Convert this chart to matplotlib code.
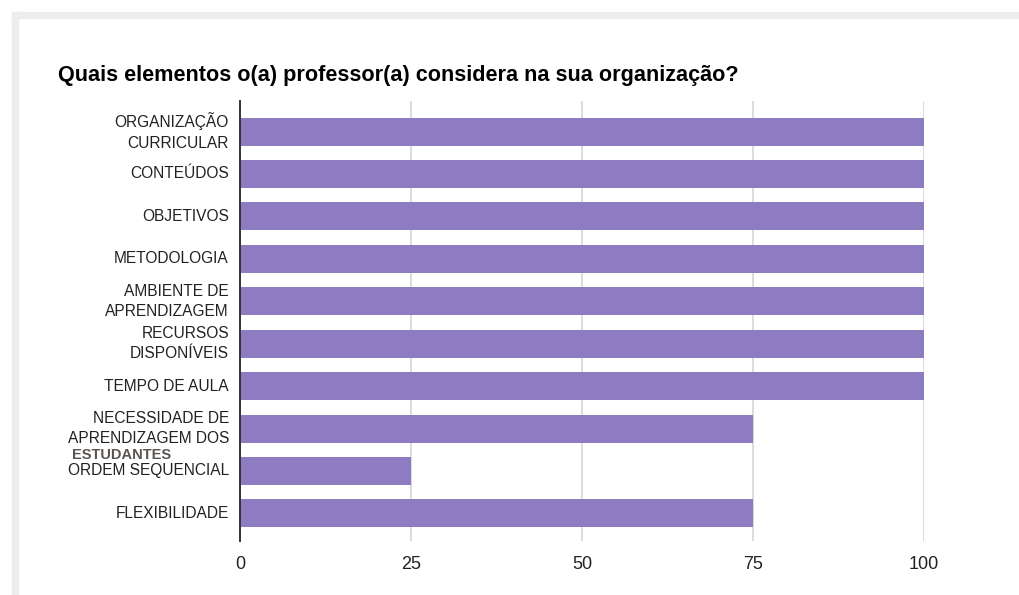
import matplotlib.pyplot as plt
from matplotlib.patches import Rectangle

plt.rcParams['font.family'] = ['Liberation Sans', 'DejaVu Sans']

# dados do gráfico
categorias = ['ORGANIZAÇÃO CURRICULAR', 'CONTEÚDOS', 'OBJETIVOS', 'METODOLOGIA',
              'AMBIENTE DE APRENDIZAGEM', 'RECURSOS DISPONÍVEIS', 'TEMPO DE AULA',
              'NECESSIDADE DE APRENDIZAGEM DOS ESTUDANTES', 'ORDEM SEQUENCIAL',
              'FLEXIBILIDADE']
rotulos = ['ORGANIZAÇÃO\nCURRICULAR', 'CONTEÚDOS', 'OBJETIVOS', 'METODOLOGIA',
           'AMBIENTE DE\nAPRENDIZAGEM', 'RECURSOS\nDISPONÍVEIS', 'TEMPO DE AULA',
           'NECESSIDADE DE\nAPRENDIZAGEM DOS', 'ORDEM SEQUENCIAL', 'FLEXIBILIDADE']
valores = [100, 100, 100, 100, 100, 100, 100, 75, 25, 75]
ticks_x = [0, 25, 50, 75, 100]
titulo = 'Quais elementos o(a) professor(a) considera na sua organização?'

W, H = 1020, 595
fig = plt.figure(figsize=(W / 100, H / 100), dpi=100, facecolor='white')

# moldura cinza clara (recorte de tela)
fig.patches.append(Rectangle((12 / W, 0), 6 / W, 1 - 12 / H, transform=fig.transFigure,
                             color='#ededed', zorder=0))
fig.patches.append(Rectangle((12 / W, 1 - 18 / H), 1, 6 / H, transform=fig.transFigure,
                             color='#ededed', zorder=0))

ax = fig.add_axes([240 / W, 1 - 541 / H, (924 - 240) / W, (541 - 101) / H])
y = list(range(len(categorias)))
ax.barh(y, valores, height=0.66, color='#8e7cc3', zorder=3)
ax.set_ylim(9.65, -0.72)
ax.set_xlim(0, 100)

ax.set_yticks(y)
ax.set_yticklabels(rotulos, fontsize=11.2, color='#222222', linespacing=1.45, va='center')
ax.set_xticks(ticks_x)
ax.set_xticklabels([str(t) for t in ticks_x], fontsize=13, color='#222222')
ax.tick_params(axis='both', length=0)
ax.tick_params(axis='y', pad=8)
ax.tick_params(axis='x', pad=11)
ax.xaxis.grid(True, color='#d6d6d6', linewidth=1.2, zorder=0)

for s in ['top', 'right', 'bottom']:
    ax.spines[s].set_visible(False)
ax.spines['left'].set_color('#333333')
ax.spines['left'].set_linewidth(1.4)
ax.spines['left'].set_zorder(4)

# terceira linha do rótulo que sobrepõe o seguinte
fig.text(72 / W, 1 - 455 / H, 'ESTUDANTES', fontsize=10.5, fontweight='bold',
         color='#5a5550', ha='left', va='center')

fig.text(58 / W, 1 - 75 / H, titulo, fontsize=15.6, fontweight='bold',
         color='#000000', ha='left', va='center')

fig.savefig('out.png', dpi=100, facecolor='white')
